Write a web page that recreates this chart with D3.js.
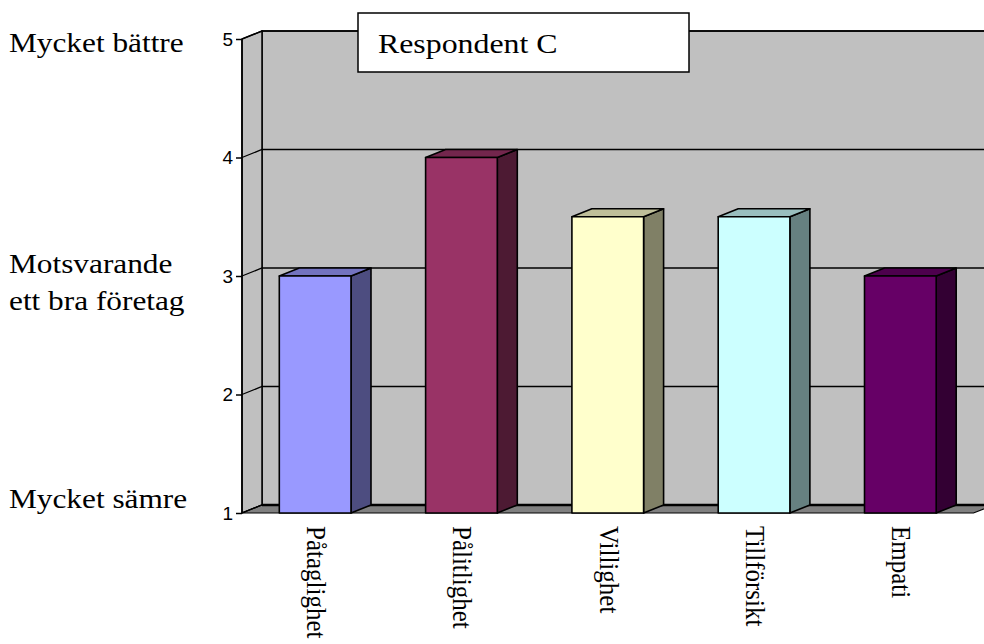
<!DOCTYPE html>
<html>
<head>
<meta charset="utf-8">
<script src="https://cdn.jsdelivr.net/npm/d3@7"></script>
<style>
  body { margin: 0; background: #fff; }
  svg { display: block; }
</style>
</head>
<body>
<div id="chart"></div>
<script>
const width = 984, height = 644;

// data
const categories = ["Påtaglighet", "Pålitlighet", "Villighet", "Tillförsikt", "Empati"];
const values = [3, 4, 3.5, 3.5, 3];
const yTicks = [1, 2, 3, 4, 5];
const title = "Respondent C";
const sideLabels = [
  {lines: ["Mycket bättre"], v: 5},
  {lines: ["Motsvarande", "ett bra företag"], v: 3},
  {lines: ["Mycket sämre"], v: 1}
];

const fronts = ["#9999ff", "#993366", "#ffffcc", "#ccffff", "#660066"];

const dx = 20, dy = -8;   // depth offset
const x0 = 242, x1 = 973.5;

const x = d3.scaleBand().domain(categories).range([x0, x1]).paddingInner(0);
const y = d3.scaleLinear().domain([1, 5]).range([513, 39]);
const barW = x.bandwidth() * 0.49;

const serif = "'Liberation Serif', 'Times New Roman', serif";
const sans = "'Liberation Sans', Arial, sans-serif";

const svg = d3.select("#chart").append("svg")
    .attr("width", width).attr("height", height);

const pts = p => p.map(d => d.join(",")).join(" ");
const yb = y(1), yt = y(5);

// back wall
svg.append("polygon")
    .attr("points", pts([[x0 + dx, yt + dy], [x1 + dx, yt + dy], [x1 + dx, yb + dy], [x0 + dx, yb + dy]]))
    .attr("fill", "#c0c0c0").attr("stroke", "#000").attr("stroke-width", 1.5);

// left wall
svg.append("polygon")
    .attr("points", pts([[x0, yt], [x0 + dx, yt + dy], [x0 + dx, yb + dy], [x0, yb]]))
    .attr("fill", "#c0c0c0").attr("stroke", "#000").attr("stroke-width", 1.5);

// floor
svg.append("polygon")
    .attr("points", pts([[x0, yb], [x0 + dx, yb + dy], [x1 + dx, yb + dy], [x1, yb]]))
    .attr("fill", "#808080").attr("stroke", "#000").attr("stroke-width", 1.2);

// gridlines
const grid = svg.append("g").attr("stroke", "#000").attr("stroke-width", 1.3).attr("fill", "none");
grid.selectAll("path.g")
  .data(yTicks)
  .join("path")
    .attr("d", v => `M${x0},${y(v)}L${x0 + dx},${y(v) + dy}L${x1 + dx},${y(v) + dy}`);
grid.append("line")
    .attr("x1", x0 + dx).attr("x2", x1 + dx)
    .attr("y1", yb + dy).attr("y2", yb + dy).attr("stroke-width", 2.5);

// y axis
const yAxis = g => g
    .attr("transform", `translate(${x0},0)`)
    .call(d3.axisLeft(y).tickValues(yTicks).tickFormat(d3.format("d")).tickSize(6).tickPadding(3))
    .call(g => g.selectAll("line, path").attr("stroke", "#000").attr("stroke-width", 1.5))
    .call(g => g.select(".domain").attr("d", `M0,${yt}V${yb}`))
    .call(g => g.selectAll("text")
        .style("font-family", sans).style("font-size", "19px").attr("fill", "#000"));
svg.append("g").call(yAxis);

// bars
const bars = svg.append("g").attr("stroke", "#000").attr("stroke-width", 1.6).attr("stroke-linejoin", "round")
  .selectAll("g")
  .data(categories.map((c, i) => ({c, v: values[i], col: fronts[i]})))
  .join("g");

bars.each(function(d) {
  const g = d3.select(this);
  const l = x(d.c) + (x.bandwidth() - barW) / 2, r = l + barW;
  const top = y(d.v);
  const c = d3.color(d.col);
  const side = d3.rgb(c.r * 0.5, c.g * 0.5, c.b * 0.5);
  const topc = d3.rgb(c.r * 0.75, c.g * 0.75, c.b * 0.75);
  g.append("polygon").attr("fill", side)
    .attr("points", pts([[r, top], [r + dx, top + dy], [r + dx, yb + dy], [r, yb]]));
  g.append("polygon").attr("fill", topc)
    .attr("points", pts([[l, top], [l + dx, top + dy], [r + dx, top + dy], [r, top]]));
  g.append("rect").attr("fill", d.col)
    .attr("x", l).attr("y", top).attr("width", barW).attr("height", yb - top);
});

// category labels
svg.append("g")
  .selectAll("text")
  .data(categories)
  .join("text")
    .attr("transform", d => `translate(${x(d) + x.bandwidth() / 2 - 8},526) rotate(90) scale(1,1.1)`)
    .attr("font-family", serif).attr("font-size", 25).attr("fill", "#000")
    .text(d => d);

// side labels
const side = svg.append("g").attr("font-family", serif).attr("font-size", 27).attr("fill", "#000");
const baseY = [52, 273, 508];
sideLabels.forEach((s, i) => {
  s.lines.forEach((ln, j) => {
    side.append("text")
      .attr("transform", `translate(9,${baseY[i] + j * 37}) scale(1.16,1)`)
      .text(ln);
  });
});

// title box
svg.append("rect")
    .attr("x", 358).attr("y", 13).attr("width", 331).attr("height", 59)
    .attr("fill", "#fff").attr("stroke", "#000").attr("stroke-width", 1.5);
svg.append("text")
    .attr("transform", "translate(378,53) scale(1.18,1)")
    .attr("font-family", serif).attr("font-size", 27).attr("fill", "#000")
    .text(title);
</script>
</body>
</html>
